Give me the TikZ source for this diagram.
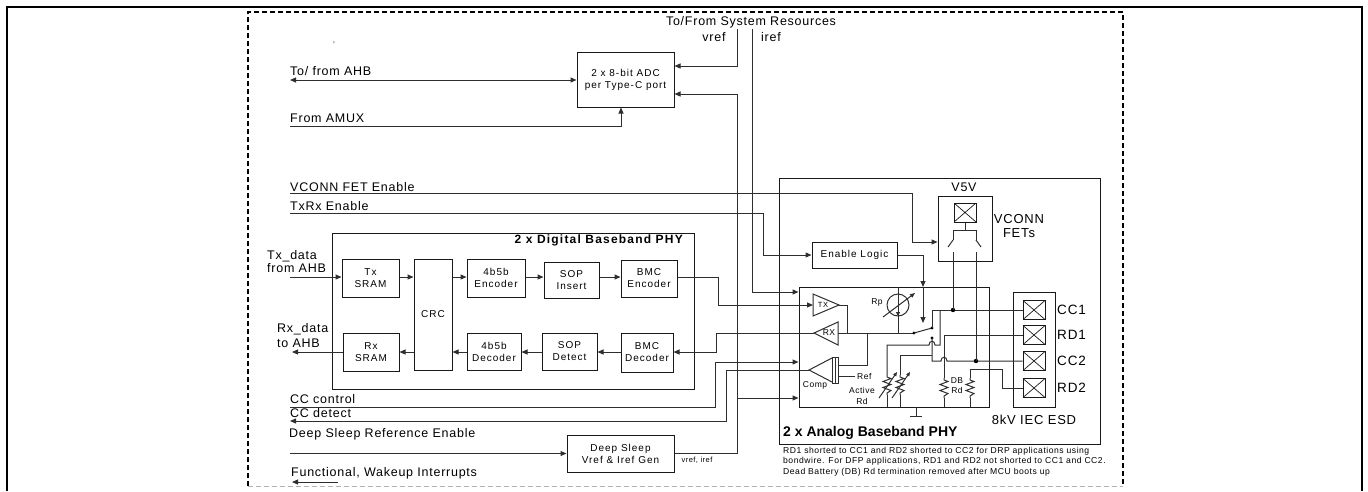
\documentclass[tikz,border=0pt]{standalone}
\usepackage{fontspec}
\setmainfont{Liberation Sans}
\newfontfamily\lblfont{Liberation Sans}[LetterSpace=6]
\newfontfamily\boxfont{Liberation Sans}[LetterSpace=10]
\usetikzlibrary{arrows.meta}
\begin{document}
\begin{tikzpicture}[x=1pt,y=-1pt,
  ln/.style={line width=1pt,draw=black!82},
  arr/.style={ln,-{Triangle[length=6pt,width=5pt]}},
  barr/.style={ln,{Triangle[length=6pt,width=5pt]}-{Triangle[length=6pt,width=5pt]}},
  blk/.style={draw=black!90,line width=1pt,inner sep=0pt},
  lbl/.style={font=\lblfont\fontsize{12.5}{13.5}\selectfont,anchor=west,inner sep=0pt,align=left},
  btx/.style={font=\boxfont\fontsize{10}{12}\selectfont,align=center},
  sm/.style={font=\lblfont\fontsize{8.5}{9.5}\selectfont,inner sep=0pt,align=center},
  pad/.style={draw=black!90,line width=1pt,minimum width=22pt,minimum height=19pt,inner sep=0pt,
    path picture={\draw[line width=0.7pt] (path picture bounding box.north west) -- (path picture bounding box.south east)
      (path picture bounding box.south west) -- (path picture bounding box.north east);}},
  resz/.pic={\draw[line width=1pt,black!82] (0,0) -- (0,2) -- (4,3.5) -- (-4,6.5) -- (4,9.5) -- (-4,12.5) -- (4,15.5) -- (0,18) -- (0,20);}
]
\useasboundingbox (0,0) rectangle (1368,491);
% frames
\draw[line width=2pt] (7,491) -- (7,7) -- (1362,7) -- (1362,491);
\draw[line width=1.6pt,dash pattern=on 5pt off 3pt] (248,486) -- (248,12) -- (1123,12) -- (1123,486);
\draw[line width=1pt,black!30,dash pattern=on 5pt off 3pt] (248,486) -- (1123,486);

% top labels
\node[lbl,anchor=center] (sysres) at (751,22) {To/From System Resources};
\node[lbl,anchor=center] (vreflbl) at (714,37) {vref};
\node[lbl,anchor=center] (ireflbl) at (771,37) {iref};
\node[font=\fontsize{8}{8}\selectfont,inner sep=0pt] (tick) at (334,45) {'};

% ADC
\node[blk,btx,minimum width=97pt,minimum height=55pt] (adc) at (625.5,79.5) {2 x 8-bit ADC\\per Type-C port};
\node[lbl] (ahbt) at (290,71) {To/ from AHB};
\coordinate (ahbL) at (290,80);
\draw[barr] (ahbL) -- (adc.west |- ahbL);
\node[lbl] (amuxt) at (290,118) {From AMUX};
\coordinate (amuxL) at (290,126);
\draw[arr] (amuxL) -| ([xshift=-4.5pt]adc.south);
\coordinate (vrefT) at (737,29);
\coordinate (irefT) at (752,29);
\draw[arr] (vrefT) |- (adc.east |- 0,66);

% enable lines
\node[lbl] (vcet) at (290,187) {VCONN FET Enable};
\node[lbl] (txrxt) at (290,206) {TxRx Enable};
\coordinate (vceL) at (290,193);
\coordinate (txrxL) at (290,213);

% analog boxes
\node[blk,minimum width=321pt,minimum height=266pt] (aout) at (939.5,311) {};
\node[blk,minimum width=190pt,minimum height=120pt] (ain) at (894,347) {};
\node[blk,minimum width=42pt,minimum height=115pt] (esd) at (1034,349.5) {};
\node[blk,minimum width=54pt,minimum height=65pt] (vfet) at (965,228.5) {};
\node[blk,btx,minimum width=85pt,minimum height=26pt] (enl) at (854.5,255) {Enable Logic};

\draw[arr] (vceL) -| (912,242) -- (vfet.west |- 0,242);
\draw[arr] (txrxL) -| (763,255) -- (enl.west);
\draw[arr] (enl.east) -| (923,287);
\draw[arr] (923,287) -- (923,323);

% digital
\node[blk,minimum width=362pt,minimum height=156pt] (dig) at (513,311) {};
\node[font=\boxfont\bfseries\fontsize{12}{13}\selectfont,anchor=east,inner sep=0pt] (digt) at (683,240) {2 x Digital Baseband PHY};
\node[blk,btx,minimum width=57pt,minimum height=38pt] (txs) at (370.5,278) {Tx\\SRAM};
\node[blk,btx,minimum width=38pt,minimum height=111pt] (crc) at (433,314.5) {CRC};
\node[blk,btx,minimum width=58pt,minimum height=38pt] (enc45) at (496,278) {4b5b\\Encoder};
\node[blk,btx,minimum width=55pt,minimum height=36pt] (sopi) at (571.5,280) {SOP\\Insert};
\node[blk,btx,minimum width=56pt,minimum height=37pt] (bmce) at (649,278.5) {BMC\\Encoder};
\node[blk,btx,minimum width=56pt,minimum height=38pt] (rxs) at (371,352) {Rx\\SRAM};
\node[blk,btx,minimum width=54pt,minimum height=37pt] (dec45) at (494,351.5) {4b5b\\Decoder};
\node[blk,btx,minimum width=55pt,minimum height=37pt] (sopd) at (569.5,351.5) {SOP\\Detect};
\node[blk,btx,minimum width=52pt,minimum height=39pt] (bmcd) at (647,352.5) {BMC\\Decoder};

\node[lbl,font=\lblfont\fontsize{12.5}{13}\selectfont] (txdt) at (267,261.5) {Tx\_data\\from AHB};
\coordinate (txin) at (290,277);
\draw[arr] (txin) -- (txs.west |- txin);
\draw[arr] (txs.east |- 0,277) -- (crc.west |- 0,277);
\draw[arr] (crc.east |- 0,277) -- (enc45.west |- 0,277);
\draw[arr] (enc45.east |- 0,277) -- (sopi.west |- 0,277);
\draw[arr] (sopi.east |- 0,277) -- (bmce.west |- 0,277);

\node[lbl,font=\lblfont\fontsize{12.5}{15}\selectfont] (rxdt) at (277,335.5) {Rx\_data\\to AHB};
\coordinate (rxout) at (292,352);
\draw[arr] (rxs.west |- rxout) -- (rxout);
\draw[arr] (crc.west |- 0,352) -- (rxs.east |- 0,352);
\draw[arr] (dec45.west |- 0,352) -- (crc.east |- 0,352);
\draw[arr] (sopd.west |- 0,352) -- (dec45.east |- 0,352);
\draw[arr] (bmcd.west |- 0,352) -- (sopd.east |- 0,352);

% TX / RX / Comp
\coordinate (txbase) at (813,305);
\coordinate (rxtip) at (814,333);
\coordinate (comptip) at (809,370);
\draw[ln] (813,294) -- (839,305) -- (813,316) -- cycle;
\node[sm,font=\lblfont\fontsize{7.5}{8}\selectfont] (txl) at (823,305) {TX};
\draw[ln] (838,322) -- (rxtip) -- (838,345) -- cycle;
\node[sm,font=\lblfont\fontsize{8.5}{9}\selectfont] (rxl) at (829,333) {RX};
\draw[arr] (bmce.east |- 0,277) -- (718,277) -- (718,305) -- (txbase);
\draw[arr] (rxtip) -- (716,333) -- (716,352) -- (bmcd.east |- 0,352);
\draw[ln] (839,305) -- (847,305) -- (847,333);
\draw[ln] (838,333) -- (914,333);
% Rp
\draw[ln] (898,287) -- (898,333);
\draw[ln] (898,305) circle (11);
\draw[ln,-{Triangle[length=5pt,width=4pt]}] (883,317) -- (915,293);
\draw[ln,-{Triangle[length=4pt,width=4pt]}] (898,300) -- (898,316);
\node[sm] (rpl) at (877,302) {Rp};
% comp
\draw[ln] (867,333) -- (867,365) -- (838,365);
\draw[ln] (832,358) -- (comptip) -- (832,382);
\draw[ln] (832,357) rectangle (838,383);
\draw[ln] (835,357) -- (835,383);
\draw[ln] (838,376) -- (855,376);
\node[sm,anchor=west] (refl) at (857,376) {Ref};
\node[sm] (compl) at (815,385) {Comp};
\node[sm,font=\lblfont\fontsize{8.5}{11}\selectfont] (actl) at (862,395.5) {Active\\Rd};

% left inputs to analog
\draw[arr] (irefT) |- (ain.west |- 0,292);
\coordinate (ccc) at (290,407);
\node[lbl] (ccct) at (290,399) {CC control};
\draw[arr] (ccc) -- (715,407) -- (715,362) -- (ain.west |- 0,362);
\node[lbl] (ccdt) at (290,413) {CC detect};
\draw[arr] (comptip) -- (726,370) -- (726,421) -- (290,421);

% deep sleep
\node[blk,btx,minimum width=107pt,minimum height=37pt] (ds) at (620.5,453.5) {Deep Sleep\\Vref \& Iref Gen};
\node[lbl] (dsret) at (289,434) {Deep Sleep Reference Enable};
\coordinate (dsre) at (290,453.5);
\draw[arr] (dsre) -- (ds.west);
\draw[arr] (ds.east) -| (737,94) -- (adc.east |- 0,94);
\draw[arr] (737,398) -- (ain.west |- 0,398);
\node[sm,anchor=north,font=\lblfont\fontsize{7.5}{8}\selectfont] (vit) at (697,457) {vref, iref};
\node[lbl] (funct) at (291,473) {Functional, Wakeup Interrupts};
\draw[arr] (338,482) -- (292,482);

% switch
\fill (914,333) circle (1.6);
\draw[ln] (914,333) -- (932,328);
\fill (932,328) circle (1.6);
\fill (932,338) circle (1.6);

% pads
\node[pad] (pcc1) at (1034,310) {};
\node[pad] (prd1) at (1034,335) {};
\node[pad] (pcc2) at (1034,361) {};
\node[pad] (prd2) at (1034,388) {};
\node[lbl,font=\lblfont\fontsize{13.5}{14}\selectfont] (cc1t) at (1057,310) {CC1};
\node[lbl,font=\lblfont\fontsize{13.5}{14}\selectfont] (rd1t) at (1057,335) {RD1};
\node[lbl,font=\lblfont\fontsize{13.5}{14}\selectfont] (cc2t) at (1057,361) {CC2};
\node[lbl,font=\lblfont\fontsize{13.5}{14}\selectfont] (rd2t) at (1057,388) {RD2};

% CC1 / CC2 nets
\draw[ln] (932,328) -- (932,310) -- (pcc1.west);
\fill (953,310) circle (2.2);
\draw[ln] (887,375) -- (887,345) -- (929,345) .. controls (929,340) and (935,340) .. (935,345) -- (940,345) -- (940,310);
\draw[ln] (932,338) -- (932,361) -- (941,361) .. controls (941,356) and (947,356) .. (947,361) -- (pcc2.west);
\fill (976,361) circle (2.2);
\draw[ln] (900,375) -- (900,355) -- (932,355);
% resistors
\pic at (887,375) {resz};
\pic at (900,375) {resz};
\pic at (944,378) {resz};
\pic at (970,378) {resz};
\draw[ln,-{Triangle[length=4pt,width=3.5pt]}] (879,398) -- (897,372);
\draw[ln,-{Triangle[length=4pt,width=3.5pt]}] (892,398) -- (910,372);
\draw[ln] (887,395) -- (887,407);
\draw[ln] (900,395) -- (900,407);
\draw[ln] (944,398) -- (944,407);
\draw[ln] (970,398) -- (970,407);
\draw[ln] (prd1.west) -- (944,335) -- (944,378);
\draw[ln] (prd2.west) -- (1002,388) -- (1002,369) -- (970,369) -- (970,378);
\node[sm] (dbt) at (957,385.5) {DB\\Rd};
% ground
\draw[ln] (916,407) -- (916,416);
\draw[ln] (910,416) -- (922,416);

% VCONN FETs internals
\node[pad] (vpad) at (965,212.5) {};
\draw[ln] (vpad.south) -- (965,230);
\draw[ln] (953,240) -- (953,230) -- (976,230) -- (976,240);
\draw[ln] (953,240) -- (948,247);
\draw[ln] (976,240) -- (981,247);
\draw[ln] (953,252) -- (953,310);
\draw[ln] (976,252) -- (976,361);
\node[lbl,anchor=center,font=\lblfont\fontsize{12.5}{13}\selectfont] (v5v) at (964,187) {V5V};
\node[lbl,anchor=center,align=center,font=\lblfont\fontsize{13}{14}\selectfont] (vfett) at (1019,226) {VCONN\\FETs};

\node[lbl,anchor=center,font=\lblfont\fontsize{13}{14}\selectfont] (esdt) at (1034,420) {8kV IEC ESD};
\node[anchor=west,inner sep=0pt,font=\bfseries\fontsize{14}{16}\selectfont] (anat) at (783,433) {2 x Analog Baseband PHY};
\node[anchor=north west,inner sep=0pt,align=left,font=\lblfont\fontsize{8.6}{10.5}\selectfont] (note) at (783,447)
  {RD1 shorted to CC1 and RD2 shorted to CC2 for DRP applications using\\
   bondwire. For DFP applications, RD1 and RD2 not shorted to CC1 and CC2.\\
   Dead Battery (DB) Rd termination removed after MCU boots up};
\end{tikzpicture}
\end{document}
